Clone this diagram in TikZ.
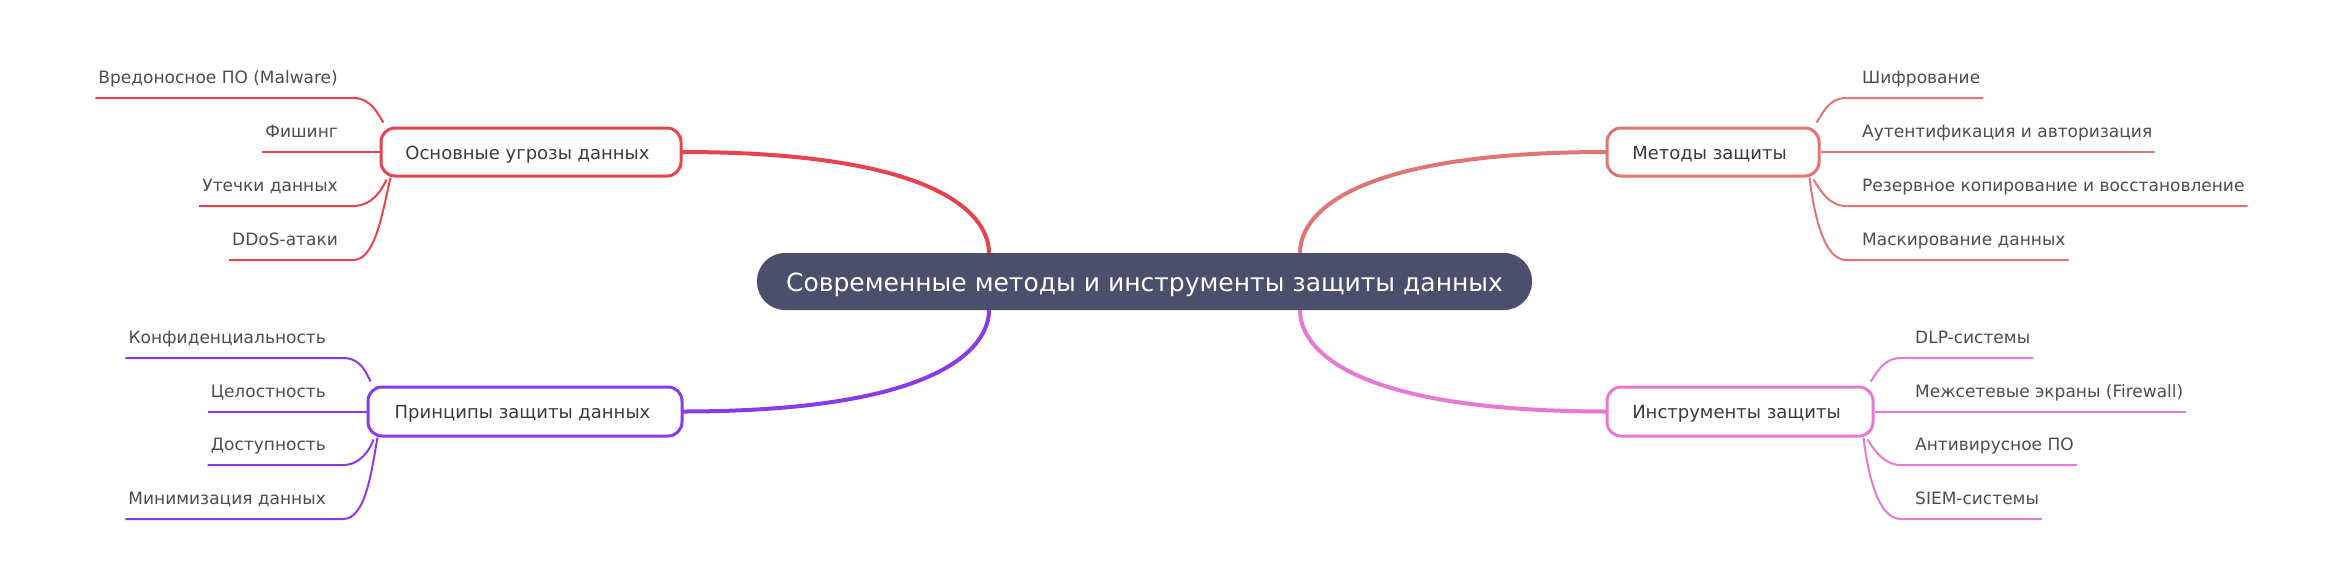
\documentclass[tikz,border=0pt]{standalone}
\usepackage{fontspec}
\setmainfont{DejaVu Sans}
\definecolor{cRed}{HTML}{E6434F}
\definecolor{cSalmon}{HTML}{DF7575}
\definecolor{cPurple}{HTML}{8A3BE8}
\definecolor{cPink}{HTML}{E879D2}
\definecolor{cCenter}{HTML}{4B4F6B}
\definecolor{cText}{HTML}{4D4D4D}
\definecolor{cBranchText}{HTML}{3A3A3A}
\begin{document}
\begin{tikzpicture}[x=1pt,y=-1pt,
  centerbox/.style={fill=cCenter, text=white, rounded corners=28pt, minimum width=775pt, minimum height=57pt, inner sep=0pt, text height=24pt, text depth=5pt, font=\fontsize{25}{30}\selectfont},
  branchbox/.style={draw, fill=white, line width=3pt, rounded corners=14pt, minimum height=48pt, inner sep=0pt, text height=18pt, text depth=4pt, text=cBranchText, font=\fontsize{18}{21}\selectfont},
  leaftext/.style={inner sep=0pt, text=cText, font=\fontsize{17}{20}\selectfont},
  mainlink/.style={line width=4pt},
  leaflink/.style={line width=2pt}]
\useasboundingbox[fill=white] (0,0) rectangle (2341,563);

% central node
\node[centerbox] (c) at (1144.5,281.5) {Современные методы и инструменты защиты данных};
\coordinate (cNW) at ([xshift=-155.5pt]c.north);
\coordinate (cNE) at ([xshift=155.5pt]c.north);
\coordinate (cSW) at ([xshift=-155.5pt]c.south);
\coordinate (cSE) at ([xshift=155.5pt]c.south);

% main links (drawn first)
\draw[mainlink, cRed] (681,152) .. controls (950,152) and (989,220) .. (cNW);
\draw[mainlink, cSalmon] (1607,152) .. controls (1338,152) and (1300,220) .. (cNE);
\draw[mainlink, cPurple] (682,411.5) .. controls (950,411.5) and (989,343) .. (cSW);
\draw[mainlink, cPink] (1607,411.5) .. controls (1338,411.5) and (1300,343) .. (cSE);

% branch boxes (text sits a little left of centre, as in the reference)
\node[branchbox, draw=cRed, minimum width=300pt] (b1) at (531,152) {Основные угрозы данных\kern7pt};
\node[branchbox, draw=cSalmon, minimum width=212pt] (b2) at (1713,152) {Методы защиты\kern7pt};
\node[branchbox, draw=cPurple, minimum width=314pt, minimum height=49pt] (b3) at (525,411.5) {Принципы защиты данных\kern5pt};
\node[branchbox, draw=cPink, minimum width=266pt, minimum height=49pt] (b4) at (1740,411.5) {Инструменты защиты\kern7pt};

% ---- top-left leaves (threats)
\node[leaftext, anchor=base east] (l1) at (338,83) {Вредоносное ПО (Malware)};
\node[leaftext, anchor=base east] (l2) at (338,137) {Фишинг};
\node[leaftext, anchor=base east] (l3) at (338,191) {Утечки данных};
\node[leaftext, anchor=base east] (l4) at (338,245) {DDoS-атаки};
\coordinate (e1) at (353,98);
\coordinate (e3) at (353,206);
\coordinate (e4) at (353,260);
\coordinate (a1) at ([shift={(4pt,4pt)}]b1.north west);
\coordinate (a3) at ([shift={(7pt,-2pt)}]b1.south west);
\coordinate (a4) at ([shift={(11pt,0pt)}]b1.south west);
\draw[leaflink, cRed] ([xshift=-3pt]l1.west |- e1) -- (e1) .. controls (372,98) and (378,115) .. (a1);
\draw[leaflink, cRed] ([xshift=-3pt]l2.west |- b1.west) -- (b1.west);
\draw[leaflink, cRed] ([xshift=-3pt]l3.west |- e3) -- (e3) .. controls (372,206) and (382,190) .. (a3);
\draw[leaflink, cRed] ([xshift=-3pt]l4.west |- e4) -- (e4) .. controls (375,260) and (382,215) .. (a4);

% ---- top-right leaves (methods)
\node[leaftext, anchor=base west] (r1) at (1862,83) {Шифрование};
\node[leaftext, anchor=base west] (r2) at (1862,137) {Аутентификация и авторизация};
\node[leaftext, anchor=base west] (r3) at (1862,191) {Резервное копирование и восстановление};
\node[leaftext, anchor=base west] (r4) at (1862,245) {Маскирование данных};
\coordinate (f1) at (1846,98);
\coordinate (f3) at (1846,206);
\coordinate (f4) at (1846,260);
\coordinate (g1) at ([shift={(-4pt,4pt)}]b2.north east);
\coordinate (g3) at ([shift={(-7pt,-2pt)}]b2.south east);
\coordinate (g4) at ([shift={(-11pt,0pt)}]b2.south east);
\draw[leaflink, cSalmon] (g1) .. controls (1822,115) and (1828,98) .. (f1) -- ([xshift=3pt]r1.east |- f1);
\draw[leaflink, cSalmon] (b2.east) -- ([xshift=3pt]r2.east |- b2.east);
\draw[leaflink, cSalmon] (g3) .. controls (1820,190) and (1829,206) .. (f3) -- ([xshift=3pt]r3.east |- f3);
\draw[leaflink, cSalmon] (g4) .. controls (1814,215) and (1824,260) .. (f4) -- ([xshift=3pt]r4.east |- f4);

% ---- bottom-left leaves (principles)
\node[leaftext, anchor=base east] (p1) at (326,343) {Конфиденциальность};
\node[leaftext, anchor=base east] (p2) at (326,397) {Целостность};
\node[leaftext, anchor=base east] (p3) at (326,450) {Доступность};
\node[leaftext, anchor=base east] (p4) at (326,504) {Минимизация данных};
\coordinate (h1) at (343,358);
\coordinate (h3) at (343,465);
\coordinate (h4) at (343,519);
\coordinate (k1) at ([shift={(4pt,4pt)}]b3.north west);
\coordinate (k3) at ([shift={(7pt,-2pt)}]b3.south west);
\coordinate (k4) at ([shift={(11pt,0pt)}]b3.south west);
\draw[leaflink, cPurple] ([xshift=-3pt]p1.west |- h1) -- (h1) .. controls (362,358) and (367,375) .. (k1);
\draw[leaflink, cPurple] ([xshift=-3pt]p2.west |- b3.west) -- (b3.west);
\draw[leaflink, cPurple] ([xshift=-3pt]p3.west |- h3) -- (h3) .. controls (360,465) and (370,450) .. (k3);
\draw[leaflink, cPurple] ([xshift=-3pt]p4.west |- h4) -- (h4) .. controls (365,519) and (371,475) .. (k4);

% ---- bottom-right leaves (tools)
\node[leaftext, anchor=base west] (t1) at (1915,343) {DLP-системы};
\node[leaftext, anchor=base west] (t2) at (1915,397) {Межсетевые экраны (Firewall)};
\node[leaftext, anchor=base west] (t3) at (1915,450) {Антивирусное ПО};
\node[leaftext, anchor=base west] (t4) at (1915,504) {SIEM-системы};
\coordinate (m1) at (1901,358);
\coordinate (m3) at (1901,465);
\coordinate (m4) at (1901,519);
\coordinate (n1) at ([shift={(-4pt,4pt)}]b4.north east);
\coordinate (n3) at ([shift={(-7pt,-2pt)}]b4.south east);
\coordinate (n4) at ([shift={(-11pt,0pt)}]b4.south east);
\draw[leaflink, cPink] (n1) .. controls (1876,375) and (1882,358) .. (m1) -- ([xshift=3pt]t1.east |- m1);
\draw[leaflink, cPink] (b4.east) -- ([xshift=3pt]t2.east |- b4.east);
\draw[leaflink, cPink] (n3) .. controls (1874,450) and (1884,465) .. (m3) -- ([xshift=3pt]t3.east |- m3);
\draw[leaflink, cPink] (n4) .. controls (1868,475) and (1878,519) .. (m4) -- ([xshift=3pt]t4.east |- m4);
\end{tikzpicture}
\end{document}
